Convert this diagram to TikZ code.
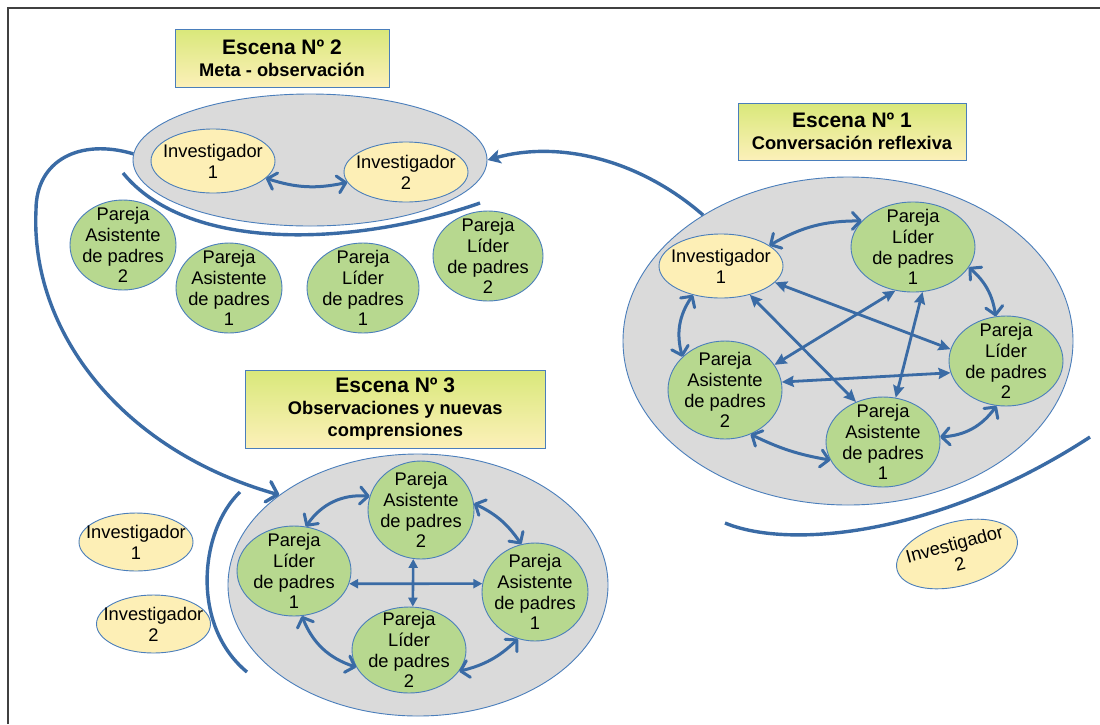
\documentclass[tikz,border=0pt]{standalone}
\usepackage{fontspec}
\setmainfont{Liberation Sans}
\usetikzlibrary{shapes.geometric,arrows.meta}
\definecolor{bordc}{HTML}{4A7EBB}
\definecolor{arrc}{HTML}{3A6BA5}
\definecolor{grayf}{HTML}{DADADA}
\definecolor{yelf}{HTML}{FDEFB6}
\definecolor{grnf}{HTML}{B7D88F}
\definecolor{ttop}{HTML}{D9E87A}
\definecolor{tbot}{HTML}{FCF0B9}
\definecolor{framec}{HTML}{404040}
\newcommand{\dnode}[7]{%
  \node[#1, minimum width=#5pt, minimum height=#6pt] (#2) at (#3,#4) {};
  \node[txt] (#2t) at (#2.center) {#7};}
\tikzset{
  ellbase/.style={ellipse, draw=bordc, line width=0.9pt, inner sep=0pt},
  grayell/.style={ellbase, fill=grayf},
  yel/.style={ellbase, fill=yelf},
  grn/.style={ellbase, fill=grnf},
  txt/.style={align=center, inner sep=0pt, font=\fontsize{18.3}{20.8}\selectfont},
  titlebox/.style={draw=bordc, line width=0.9pt, top color=ttop, bottom color=tbot,
    inner sep=0pt, align=center, font=\bfseries\fontsize{18.3}{21.8}\selectfont},
  barb/.tip={Straight Barb[length=8pt,width=17pt,line cap=round,line join=round]},
  link/.style={arrc, line width=3pt, barb-barb},
  slink/.style={arrc, line width=2.8pt,
    {Stealth[length=12pt,width=11pt,inset=1.5pt]}-{Stealth[length=12pt,width=11pt,inset=1.5pt]}},
  xlink/.style={arrc, line width=2.6pt,
    {Triangle[length=9pt,width=9pt]}-{Triangle[length=9pt,width=9pt]}},
  arcline/.style={arrc, line width=3.4pt},
  bigarr/.style={arrc, line width=3.4pt,
    -{Straight Barb[length=10pt,width=21pt,line cap=round,line join=round]}},
  midarr/.style={arrc, line width=3.4pt, -{Stealth[length=13pt,width=14pt,inset=3pt]}}
}
\begin{document}
\begin{tikzpicture}[x=1pt,y=-1pt]
\useasboundingbox (0,0) rectangle (1100,724);
\fill[white] (0,0) rectangle (1100,724);
\draw[framec, line width=1.6pt] (8,724) -- (8,8) -- (1100,8);

% titles
\node[titlebox, minimum width=214pt, minimum height=58pt] (t2) at (282,58)
  {{\fontsize{21}{24}\selectfont Escena Nº 2}\\Meta - observación};
\node[titlebox, minimum width=228pt, minimum height=57pt] (t1) at (852,131.5)
  {{\fontsize{21}{24}\selectfont Escena Nº 1}\\Conversación reflexiva};
\node[titlebox, minimum width=300pt, minimum height=78pt] (t3) at (395.3,409)
  {{\fontsize{21}{24}\selectfont Escena Nº 3}\\Observaciones y nuevas\\comprensiones};

% scene 2
\node[grayell, minimum width=354pt, minimum height=132pt] (s2) at (310,160) {};
\dnode{yel}{s2i1}{213}{161}{124}{64}{Investigador\\1}
\dnode{yel}{s2i2}{406}{172}{124}{60}{Investigador\\2}
\draw[link] (s2i1.-18) to[bend right=15] (s2i2.190);
\dnode{grn}{s2a2}{123}{245}{106}{90}{Pareja\\Asistente\\de padres\\2}
\dnode{grn}{s2a1}{229}{288}{106}{90}{Pareja\\Asistente\\de padres\\1}
\dnode{grn}{s2l1}{363}{288}{112}{90}{Pareja\\Líder\\de padres\\1}
\dnode{grn}{s2l2}{488}{256}{110}{90}{Pareja\\Líder\\de padres\\2}
\draw[arcline] (123,173) .. controls (190,255) and (360,245) .. (480,203);

% scene 1
\node[grayell, minimum width=450pt, minimum height=328pt] (s1) at (848,341) {};
\dnode{yel}{s1i1}{721}{266}{124}{64}{Investigador\\1}
\dnode{grn}{s1l1}{913}{247}{124}{90}{Pareja\\Líder\\de padres\\1}
\dnode{grn}{s1l2}{1006}{361}{114}{90}{Pareja\\Líder\\de padres\\2}
\dnode{grn}{s1a2}{725}{390}{114}{98}{Pareja\\Asistente\\de padres\\2}
\dnode{grn}{s1a1}{883}{442}{114}{90}{Pareja\\Asistente\\de padres\\1}
\draw[link] (s1i1.23) to[bend left=15] (s1l1.153);
\draw[link] (s1i1.226) to[bend right=25] (s1a2.142);
\draw[link] (s1l1.-20) to[bend left=20] (s1l2.103);
\draw[link] (s1l2.258) to[bend left=25] (s1a1.5);
\draw[link] (s1a2.300) to[bend right=8] (s1a1.199);
\draw[slink] (s1i1.-17) -- (s1l2.168);
\draw[slink] (s1i1.-45) -- (s1a1.124);
\draw[slink] (s1l1.248) -- (s1a2.27);
\draw[slink] (s1l1.282) -- (s1a1.74);
\draw[slink] (s1a2.8) -- (s1l2.192);
\draw[arcline] (725,523) .. controls (790,550) and (940,535) .. (1090,437);
\node[yel, rotate=15, minimum width=124pt, minimum height=64pt] (bi2) at (957,554) {};
\node[txt, rotate=15] (bi2t) at (bi2.center) {Investigador\\2};

% scene 3
\node[grayell, minimum width=380pt, minimum height=262pt] (s3) at (418,585) {};
\dnode{grn}{s3a2}{421}{510}{106}{98}{Pareja\\Asistente\\de padres\\2}
\dnode{grn}{s3l1}{294}{571}{114}{90}{Pareja\\Líder\\de padres\\1}
\dnode{grn}{s3a1}{535}{592}{106}{98}{Pareja\\Asistente\\de padres\\1}
\dnode{grn}{s3l2}{409}{650}{114}{86}{Pareja\\Líder\\de padres\\2}
\draw[xlink] (s3l1.-13) -- (s3a1.171);
\draw[xlink] (s3a2.261) -- (s3l2.85);
\draw[link] (s3a2.165) to[bend right=30] (s3l1.75);
\draw[link] (s3a2.7) to[bend left=15] (s3a1.106);
\draw[link] (s3l1.280) to[bend right=25] (s3l2.198);
\draw[link] (s3l2.-23) to[bend right=15] (s3a1.250);
\draw[arcline] (240,492) .. controls (200,530) and (190,625) .. (247,672);
\dnode{yel}{s3i1}{136}{542}{114}{58}{Investigador\\1}
\dnode{yel}{s3i2}{153.5}{624}{114}{58}{Investigador\\2}

% scene transitions
\draw[midarr] (s1.139) .. controls (640,160) and (560,140) .. (s2.0);
\draw[bigarr] (s2.178) .. controls (80,138) and (36,160) .. (36,210)
  .. controls (30,330) and (120,450) .. (s3.147);
\end{tikzpicture}
\end{document}
